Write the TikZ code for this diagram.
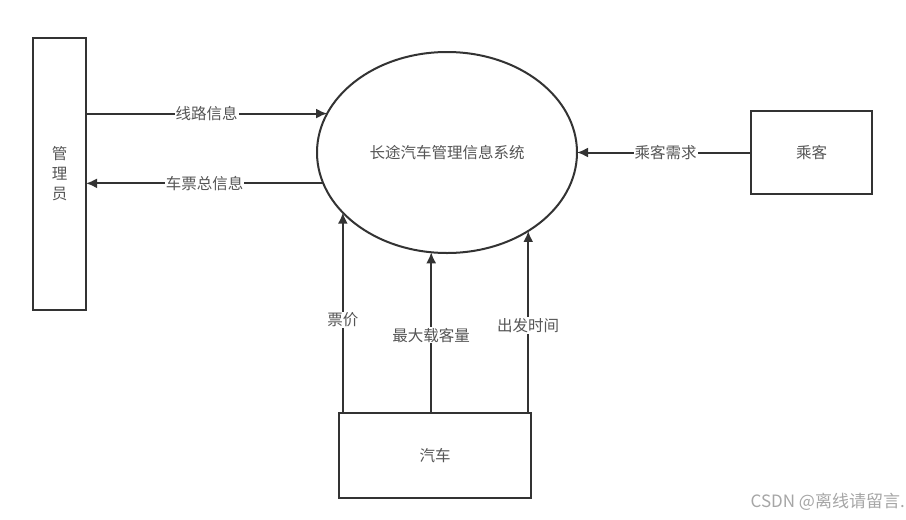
\documentclass[tikz,border=0pt]{standalone}
\usepackage{fontspec}
\setmainfont{Noto Sans CJK SC}
\usetikzlibrary{shapes.geometric,arrows.meta}
\definecolor{linec}{HTML}{333333}
\definecolor{textc}{HTML}{555555}
\begin{document}
\begin{tikzpicture}[x=1pt,y=-1pt,
  box/.style={draw=linec,line width=2pt,rectangle,inner sep=0pt,outer sep=0pt,text=textc,font=\fontsize{15.5}{20}\selectfont},
  proc/.style={draw=linec,line width=2pt,ellipse,inner sep=0pt,outer sep=0pt,minimum width=260pt,minimum height=201pt,text=textc,font=\fontsize{15.5}{20}\selectfont},
  arr/.style={draw=linec,line width=2pt,-{Latex[length=11pt,width=10pt]}},
  lbl/.style={fill=white,text=textc,inner sep=1pt,font=\fontsize{15.5}{20}\selectfont}]
\useasboundingbox[fill=white] (0,0) rectangle (906,520);
\node[box,minimum width=53pt,minimum height=272pt,align=center] (admin) at (59.5,174) {管\\理\\员};
\node[proc] (sys) at (447,152.5) {长途汽车管理信息系统};
\node[box,minimum width=121pt,minimum height=83pt] (guest) at (811.5,152.5) {乘客};
\node[box,minimum width=192pt,minimum height=85pt] (bus) at (435,455.5) {汽车};
\draw[arr] (sys.162.7 -| admin.east) -- node[lbl] {线路信息} (sys.162.7);
\draw[arr] (sys.194.8) -- node[lbl] {车票总信息} (sys.194.8 -| admin.east);
\draw[arr] (guest.west) -- node[lbl,pos=0.49] {乘客需求} (sys.east);
\draw[arr] (bus.north -| sys.210) -- node[lbl,pos=0.464] {票价} (sys.210);
\draw[arr] (bus.north -| sys.261.4) -- node[lbl,pos=0.484] {最大载客量} (sys.261.4);
\draw[arr] (bus.north -| sys.316.6) -- node[lbl,pos=0.481] {出发时间} (sys.316.6);
\node[anchor=east,text=black!35,font=\fontsize{17}{19}\selectfont,inner sep=0pt] (wm) at (905,502) {CSDN @离线请留言.};
\end{tikzpicture}
\end{document}
